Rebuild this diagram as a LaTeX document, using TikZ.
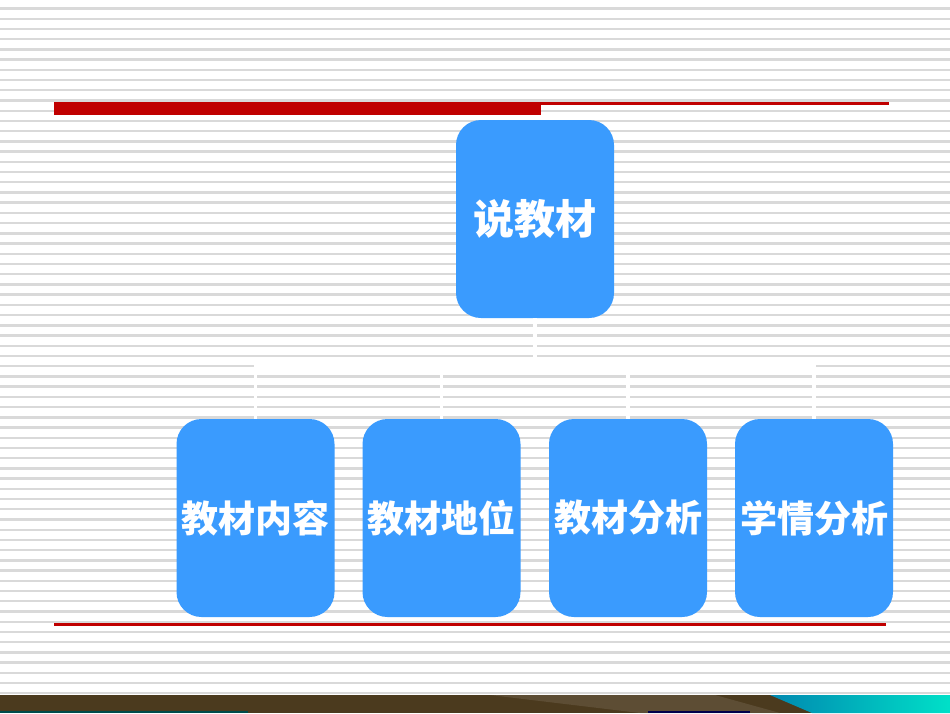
\documentclass[tikz,border=0pt]{standalone}
\usepackage{fontspec}
\newfontfamily\cjk{Noto Sans CJK SC}
\definecolor{stripe}{HTML}{D9D9D9}
\definecolor{boxblue}{HTML}{3A9BFE}
\definecolor{redbar}{HTML}{C00000}
\definecolor{brownband}{HTML}{4B3A1E}
\definecolor{tealA}{HTML}{0088B0}
\definecolor{tealB}{HTML}{00E0C8}
\tikzset{
  box/.style={fill=boxblue, rounded corners=25pt, inner sep=0pt,
    minimum width=158pt, minimum height=198pt, text=white,
    font=\cjk\bfseries\fontsize{37pt}{40pt}\selectfont},
  conn/.style={draw=white, line width=3.5pt},
}
\begin{document}
\begin{tikzpicture}[x=1pt,y=-1pt]
\useasboundingbox (0,0) rectangle (950,713);
\fill[white] (0,0) rectangle (950,713);
% stripes
\foreach \k in {0,...,67}{
  \fill[stripe] (0,{7.3+10.22*\k}) rectangle (950,{9.7+10.22*\k});
}
% red lines top
\fill[redbar] (54,102) rectangle (541,114.5);
\fill[redbar] (541,101.7) rectangle (889,105);
% red line bottom
\fill[redbar] (54,622.5) rectangle (886,625.5);
% bottom band
\fill[brownband] (0,695) rectangle (950,713);
\fill[brownband!80!white, opacity=0.5] (490,695) -- (715,695) -- (780,713) -- (640,713) -- cycle;
\shade[left color=tealA, right color=tealB] (770,695) -- (950,695) -- (950,713) -- (812,713) -- cycle;
\fill[teal!60!black] (0,711.3) rectangle (248,713);
\fill[blue!30!black] (648,711.3) rectangle (750,713);
% connectors
\coordinate (bus) at (0,367);
% nodes
\node[box, font=\cjk\bfseries\fontsize{41pt}{44pt}\selectfont] (top) at (535,219) {说教材};
\node[box] (c1) at (255.5,518) {教材内容};
\node[box] (c2) at (441.5,518) {教材地位};
\node[box] (c3) at (628,518) {教材分析};
\node[box] (c4) at (814,518) {学情分析};
\foreach \c in {c1,c2,c3,c4}{
  \draw[conn] (top.south) -- (top.south |- bus) -| (\c.north);
}
\end{tikzpicture}
\end{document}
